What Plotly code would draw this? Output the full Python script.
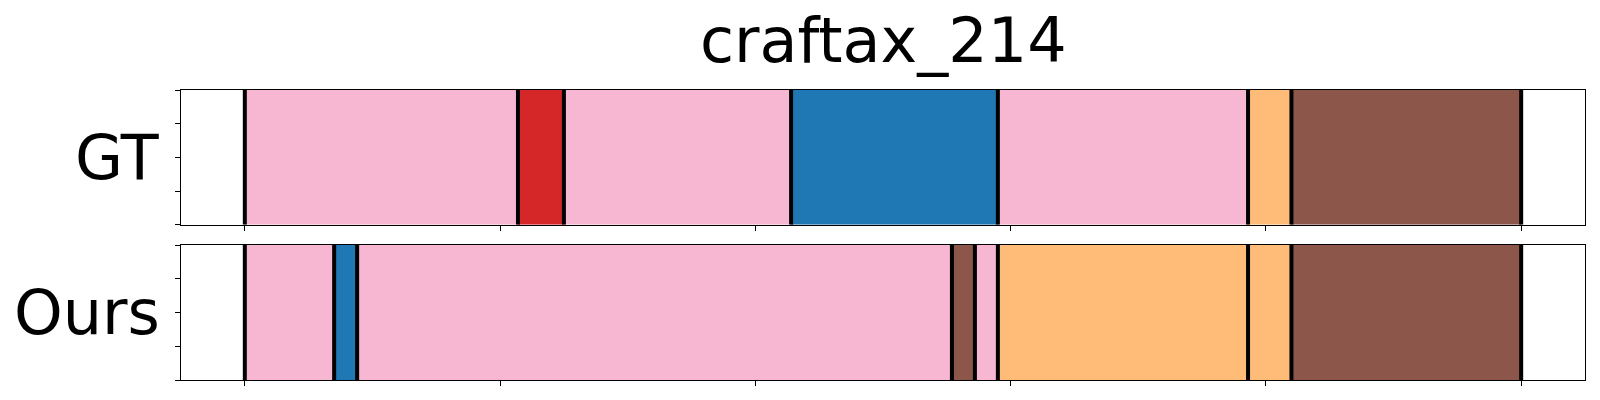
import plotly.graph_objects as go
from plotly.subplots import make_subplots

title = "craftax_214"
row_labels = ["GT", "Ours"]

# segment boundaries (frame index) and segment classes
gt_bounds = [0, 53.5, 62.5, 107, 147.5, 196.5, 205, 250]
gt_classes = ["pink", "red", "pink", "blue", "pink", "orange", "brown"]

ours_bounds = [0, 17.5, 22, 138.5, 143, 147.5, 196.5, 205, 250]
ours_classes = ["pink", "blue", "pink", "brown", "pink", "orange", "orange", "brown"]

x_ticks = [0, 50, 100, 150, 200, 250]
y_ticks = [0, 0.25, 0.5, 0.75, 1.0]

palette = {
    "pink": "#f7b6d2",
    "red": "#d62728",
    "blue": "#1f77b4",
    "orange": "#ffbb78",
    "brown": "#8c564b",
}

FONT = "DejaVu Sans"

OFF = 8  # page body margin
L, R, T, B = 181.3, 1585.3, 90.3, 380.3
W, H = 1600, 400
top_panel = (90.3, 225.0)
bot_panel = (245.3, 380.3)
ph = B - T

fig = make_subplots(rows=2, cols=1, shared_xaxes=False)

panels = [(gt_bounds, gt_classes), (ours_bounds, ours_classes)]
for i, (bounds, classes) in enumerate(panels, start=1):
    starts = bounds[:-1]
    lengths = [bounds[k + 1] - bounds[k] for k in range(len(bounds) - 1)]
    fig.add_trace(go.Bar(
        orientation="h",
        y=[0.5] * len(starts),
        x=lengths,
        base=starts,
        width=1.0,
        marker=dict(color=[palette[c] for c in classes], line=dict(width=0)),
        hoverinfo="skip",
        showlegend=False,
    ), row=i, col=1)
    lx, ly = [], []
    for b in bounds:
        lx += [b, b, None]
        ly += [0, 1, None]
    fig.add_trace(go.Scatter(
        x=lx, y=ly, mode="lines",
        line=dict(color="black", width=4),
        hoverinfo="skip", showlegend=False,
    ), row=i, col=1)

span = x_ticks[-1] - x_ticks[0]
xr = [x_ticks[0] - 0.05 * span, x_ticks[-1] + 0.05 * span]

axis_common = dict(
    showline=True, linecolor="black", linewidth=1.1, mirror=True,
    ticks="outside", ticklen=5, tickwidth=1, tickcolor="black",
    showticklabels=False, showgrid=False, zeroline=False,
)

fig.update_xaxes(range=xr, tickvals=x_ticks, **axis_common)
fig.update_yaxes(range=[0, 1], tickvals=y_ticks, **axis_common)

FW, FH = W - OFF, H - OFF
fig.update_layout(
    yaxis=dict(domain=[(B - top_panel[1]) / ph, 1.0]),
    yaxis2=dict(domain=[0.0, (B - bot_panel[0]) / ph]),
    xaxis=dict(domain=[0, 1]),
    xaxis2=dict(domain=[0, 1]),
    barmode="overlay",
    width=FW, height=FH,
    margin=dict(l=L - OFF, r=W - R, t=T - OFF, b=H - B, pad=0),
    paper_bgcolor="white", plot_bgcolor="white",
    font=dict(family=FONT, color="black"),
    title=dict(text=title, font=dict(family=FONT, size=62, color="black"),
               x=((L + R) / 2 - OFF) / FW, xanchor="center", xref="container",
               y=1 - (40 - OFF) / FH, yanchor="middle", yref="container"),
)

for i, lab in enumerate(row_labels, start=1):
    yref = "y domain" if i == 1 else "y2 domain"
    fig.add_annotation(
        text=lab, xref="paper", x=0, xshift=-19, xanchor="right",
        yref=yref, y=0.5, yanchor="middle", showarrow=False,
        font=dict(family=FONT, size=62, color="black"),
    )

fig.write_html("out.html")
